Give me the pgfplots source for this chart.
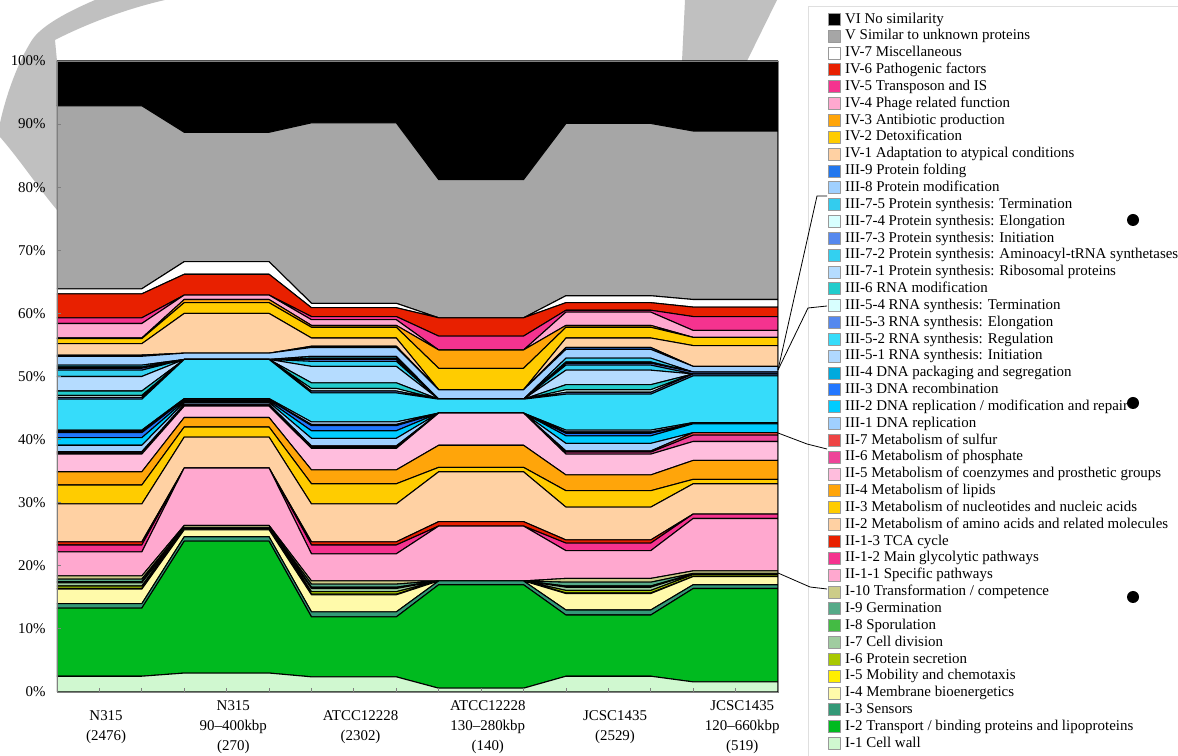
\documentclass[border=0pt]{standalone}
\usepackage{fontspec}
\setmainfont{Liberation Serif}
\usepackage{pgfplots}
\pgfplotsset{compat=1.18}
\usepackage{pgfplotstable}

\definecolor{cI1}{HTML}{D0F8D0}
\definecolor{cI2}{HTML}{00BA1F}
\definecolor{cI3}{HTML}{339977}
\definecolor{cI4}{HTML}{FFFAAA}
\definecolor{cI5}{HTML}{FFEE00}
\definecolor{cI6}{HTML}{A8C800}
\definecolor{cI7}{HTML}{A0CCA0}
\definecolor{cI8}{HTML}{44BB44}
\definecolor{cI9}{HTML}{55AA88}
\definecolor{cI10}{HTML}{CCCC88}
\definecolor{cIIa}{HTML}{FFA8CF}
\definecolor{cIIb}{HTML}{F5338F}
\definecolor{cIIc}{HTML}{E82000}
\definecolor{cII2}{HTML}{FFD1A3}
\definecolor{cII3}{HTML}{FFCC00}
\definecolor{cII4}{HTML}{FFA50A}
\definecolor{cII5}{HTML}{FFBDDD}
\definecolor{cII6}{HTML}{EE4499}
\definecolor{cII7}{HTML}{EE4444}
\definecolor{cIII1}{HTML}{A0D0FF}
\definecolor{cIII2}{HTML}{00CCFF}
\definecolor{cIII3}{HTML}{2277FF}
\definecolor{cIII4}{HTML}{00AADD}
\definecolor{cIIIa}{HTML}{B0D8FF}
\definecolor{cIIIb}{HTML}{36DCFA}
\definecolor{cIIIc}{HTML}{5588EE}
\definecolor{cIIId}{HTML}{D8FFFF}
\definecolor{cIII6}{HTML}{22CCCC}
\definecolor{cIIIe}{HTML}{B5DCFF}
\definecolor{cIIIf}{HTML}{33D0F0}
\definecolor{cIIIg}{HTML}{5588EE}
\definecolor{cIIIh}{HTML}{D8FFFF}
\definecolor{cIIIi}{HTML}{33CCEE}
\definecolor{cIII8}{HTML}{A0D0FF}
\definecolor{cIII9}{HTML}{2277EE}
\definecolor{cIV1}{HTML}{FFD1A3}
\definecolor{cIV2}{HTML}{FFCC00}
\definecolor{cIV3}{HTML}{FFA50A}
\definecolor{cIV4}{HTML}{FFA8CF}
\definecolor{cIV5}{HTML}{F5338F}
\definecolor{cIV6}{HTML}{E82000}
\definecolor{cIV7}{HTML}{FFFFFF}
\definecolor{cV}{HTML}{A6A6A6}
\definecolor{cVI}{HTML}{000000}
\definecolor{wmark}{HTML}{C0C0C0}

% each category is flat over two x positions, with linear transitions between
\pgfplotstableread{
x L1 L2 L3 L4 L5 L6 L7 L8 L9 L10 L11 L12 L13 L14 L15 L16 L17 L18 L19 L20 L21 L22 L23 L24 L25 L26 L27 L28 L29 L30 L31 L32 L33 L34 L35 L36 L37 L38 L39 L40 L41 L42 L43 L44
0  2.5 10.8 0.7 2.3 0.1 0.4 0.5 0.2 0.4 0.5 3.8 1.1 0.5 6.0 3.0 2.1 2.8 0.2 0.2 1.0 1.2 0.8 0.2 0.2 4.9 0.3 0.3 0.7 2.3 1.0 0.3 0.2 0.3 1.4 0.2 1.8 0.8 0.1 2.3 0.9 3.8 0.8 29.0 7.1
2  2.5 10.8 0.7 2.3 0.1 0.4 0.5 0.2 0.4 0.5 3.8 1.1 0.5 6.0 3.0 2.1 2.8 0.2 0.2 1.0 1.2 0.8 0.2 0.2 4.9 0.3 0.3 0.7 2.3 1.0 0.3 0.2 0.3 1.4 0.2 1.8 0.8 0.1 2.3 0.9 3.8 0.8 29.0 7.1
3  3.0 20.9 0.7 1.1 0 0.2 0.1 0 0.1 0.3 9.1 0 0 4.9 1.6 1.5 1.8 0.2 0.1 0.3 0.2 0.2 0 0.2 6.2 0 0 0 0 0 0 0 0 1.0 0 6.3 1.7 0.5 0.7 0 3.3 2.0 20.5 11.3
5  3.0 20.9 0.7 1.1 0 0.2 0.1 0 0.1 0.3 9.1 0 0 4.9 1.6 1.5 1.8 0.2 0.1 0.3 0.2 0.2 0 0.2 6.2 0 0 0 0 0 0 0 0 1.0 0 6.3 1.7 0.5 0.7 0 3.3 2.0 20.5 11.3
6  2.4 9.5 0.8 2.7 0.1 0.4 0.5 0.2 0.5 0.5 4.3 1.4 0.5 6.0 3.2 2.2 3.4 0.2 0.2 1.2 1.2 0.8 0.2 0.4 4.6 0.3 0.4 0.9 2.6 0.8 0.3 0.2 0.3 1.4 0.2 1.3 1.7 0.3 0.9 0.5 1.4 0.7 28.6 9.8
8  2.4 9.5 0.8 2.7 0.1 0.4 0.5 0.2 0.5 0.5 4.3 1.4 0.5 6.0 3.2 2.2 3.4 0.2 0.2 1.2 1.2 0.8 0.2 0.4 4.6 0.3 0.4 0.9 2.6 0.8 0.3 0.2 0.3 1.4 0.2 1.3 1.7 0.3 0.9 0.5 1.4 0.7 28.6 9.8
9  0.6 16.4 0.6 0 0 0 0 0 0 0 8.7 0 0.7 7.9 0.7 3.5 5.1 0 0 0 0 0 0 0 2.2 0 0 0 0 0 0 0 0 1.5 0 0 3.4 2.9 0 2.2 2.9 0 21.9 18.8
11 0.6 16.4 0.6 0 0 0 0 0 0 0 8.7 0 0.7 7.9 0.7 3.5 5.1 0 0 0 0 0 0 0 2.2 0 0 0 0 0 0 0 0 1.5 0 0 3.4 2.9 0 2.2 2.9 0 21.9 18.8
12 2.5 9.7 0.8 2.6 0.1 0.4 0.5 0.2 0.6 0.6 4.4 1.2 0.5 5.2 2.6 2.5 3.3 0.3 0.2 1.2 1.2 0.4 0.2 0.3 5.7 0.3 0.4 0.8 2.3 0.8 0.3 0.2 0.6 1.4 0.3 1.5 1.7 0.3 2.1 0.3 1.2 1.1 27.3 9.9
14 2.5 9.7 0.8 2.6 0.1 0.4 0.5 0.2 0.6 0.6 4.4 1.2 0.5 5.2 2.6 2.5 3.3 0.3 0.2 1.2 1.2 0.4 0.2 0.3 5.7 0.3 0.4 0.8 2.3 0.8 0.3 0.2 0.6 1.4 0.3 1.5 1.7 0.3 2.1 0.3 1.2 1.1 27.3 9.9
15 1.6 14.8 0.6 1.3 0 0.3 0.1 0 0.1 0.4 8.3 0.7 0 4.8 0.7 3.0 3.0 1.0 0.4 0 1.4 0 0 0.2 7.4 0.3 0 0 0 0 0.3 0 0 0.9 0 3.3 1.3 0 1.1 2.2 1.5 1.2 26.7 11.1
17 1.6 14.8 0.6 1.3 0 0.3 0.1 0 0.1 0.4 8.3 0.7 0 4.8 0.7 3.0 3.0 1.0 0.4 0 1.4 0 0 0.2 7.4 0.3 0 0 0 0 0.3 0 0 0.9 0 3.3 1.3 0 1.1 2.2 1.5 1.2 26.7 11.1
}\data

\newcommand{\lay}[3]{\addplot[fill=#2] table[x=x,y=#1]{\data} \closedcycle; \addlegendentry{#3}}

\begin{document}
\begin{tikzpicture}
% faint grey background arcs (watermark), behind the axis
\begin{scope}[x=0.75pt,y=-0.75pt,shift={(-57,-692)}]
\fill[wmark] (95,0) .. controls (60,15) and (40,28) .. (32,40) .. controls (18,62) and (6,95) .. (0,123)
  -- (0,137) .. controls (20,160) and (40,190) .. (57,210) -- (57,61) -- (55,40) .. controls (90,22) and (130,8) .. (165,0) -- cycle;
\fill[wmark] (682,61) -- (685,0) -- (777,0) -- (747,61) -- cycle;
\end{scope}
\begin{axis}[
  scale only axis, width=540.75pt, height=473.25pt,
  xmin=0, xmax=17, ymin=0, ymax=100,
  stack plots=y,
  axis on top,
  axis line style={draw=gray, line width=0.7pt},
  tick align=inside, xtick pos=left, ytick pos=left,
  major tick length=3pt, minor tick length=3pt,
  every tick/.style={gray, line width=0.6pt},
  xtick={1,4,7,10,13,16}, minor xtick={0,...,17},
  xticklabels={{N315\\(2476)},{N315\\90–400kbp\\(270)},{ATCC12228\\(2302)},{ATCC12228\\130–280kbp\\(140)},{JCSC1435\\(2529)},{JCSC1435\\120–660kbp\\(519)}},
  xticklabel style={align=center, anchor=center, yshift=-26.25pt, xshift=5pt, font=\fontsize{11.2}{15}\selectfont},
  ytick={0,10,...,100},
  yticklabel={\pgfmathprintnumber[assume math mode=true]{\tick}\%},
  yticklabel style={font=\fontsize{11.2}{13}\selectfont, xshift=-5pt},
  every axis plot/.append style={draw=black, line width=0.8pt, line join=round},
  reverse legend, legend cell align=left,
  legend image code/.code={\path (-12.25pt,0pt); \draw[#1,draw=gray!80,line width=0.5pt] (0pt,-4.5pt) rectangle (9pt,4.5pt);},
  legend style={at={(1.0416,1.0872)}, anchor=north west, draw=gray!25, line width=0.5pt,
    inner xsep=2pt, inner ysep=4pt, font=\fontsize{11.2}{13}\selectfont,
    nodes={inner sep=0pt, text height=8.6pt, text depth=2.9pt}, row sep=1.13pt, column sep=3.75pt},
]
\lay{L1}{cI1}{I-1 Cell wall}
\lay{L2}{cI2}{I-2 Transport / binding proteins and lipoproteins}
\lay{L3}{cI3}{I-3 Sensors}
\lay{L4}{cI4}{I-4 Membrane bioenergetics}
\lay{L5}{cI5}{I-5 Mobility and chemotaxis}
\lay{L6}{cI6}{I-6 Protein secretion}
\lay{L7}{cI7}{I-7 Cell division}
\lay{L8}{cI8}{I-8 Sporulation}
\lay{L9}{cI9}{I-9 Germination}
\lay{L10}{cI10}{I-10 Transformation / competence}
\lay{L11}{cIIa}{II-1-1 Specific pathways}
\lay{L12}{cIIb}{II-1-2 Main glycolytic pathways}
\lay{L13}{cIIc}{II-1-3 TCA cycle}
\lay{L14}{cII2}{II-2 Metabolism of amino acids and related molecules}
\lay{L15}{cII3}{II-3 Metabolism of nucleotides and nucleic acids}
\lay{L16}{cII4}{II-4 Metabolism of lipids}
\lay{L17}{cII5}{II-5 Metabolism of coenzymes and prosthetic groups}
\lay{L18}{cII6}{II-6 Metabolism of phosphate}
\lay{L19}{cII7}{II-7 Metabolism of sulfur}
\lay{L20}{cIII1}{III-1 DNA replication}
\lay{L21}{cIII2}{III-2 DNA replication / modification and repair}
\lay{L22}{cIII3}{III-3 DNA recombination}
\lay{L23}{cIII4}{III-4 DNA packaging and segregation}
\lay{L24}{cIIIa}{III-5-1 RNA synthesis: Initiation}
\lay{L25}{cIIIb}{III-5-2 RNA synthesis: Regulation}
\lay{L26}{cIIIc}{III-5-3 RNA synthesis: Elongation}
\lay{L27}{cIIId}{III-5-4 RNA synthesis: Termination}
\lay{L28}{cIII6}{III-6 RNA modification}
\lay{L29}{cIIIe}{III-7-1 Protein synthesis: Ribosomal proteins}
\lay{L30}{cIIIf}{III-7-2 Protein synthesis: Aminoacyl-tRNA synthetases}
\lay{L31}{cIIIg}{III-7-3 Protein synthesis: Initiation}
\lay{L32}{cIIIh}{III-7-4 Protein synthesis: Elongation}
\lay{L33}{cIIIi}{III-7-5 Protein synthesis: Termination}
\lay{L34}{cIII8}{III-8 Protein modification}
\lay{L35}{cIII9}{III-9 Protein folding}
\lay{L36}{cIV1}{IV-1 Adaptation to atypical conditions}
\lay{L37}{cIV2}{IV-2 Detoxification}
\lay{L38}{cIV3}{IV-3 Antibiotic production}
\lay{L39}{cIV4}{IV-4 Phage related function}
\lay{L40}{cIV5}{IV-5 Transposon and IS}
\lay{L41}{cIV6}{IV-6 Pathogenic factors}
\lay{L42}{cIV7}{IV-7 Miscellaneous}
\lay{L43}{cV}{V Similar to unknown proteins}
\lay{L44}{cVI}{VI No similarity}
\end{axis}
\begin{scope}[x=0.75pt,y=-0.75pt,shift={(-57,-692)}]
\draw[black, line width=0.6pt] (827,196) -- (817,196) -- (778,370);
\draw[black, line width=0.6pt] (827,306) -- (808,308) -- (778,370);
\draw[black, line width=0.6pt] (827,449) -- (807,444) -- (778,433);
\draw[black, line width=0.6pt] (827,589) -- (810,587) -- (778,573);
\fill (1133,220) circle[radius=4.5pt];
\fill (1133,403) circle[radius=4.5pt];
\fill (1133,597) circle[radius=4.5pt];
\end{scope}
\pgfresetboundingbox
\path[use as bounding box, x=0.75pt, y=-0.75pt, shift={(-57,-692)}] (0,0) rectangle (1178,756);
\end{tikzpicture}
\end{document}
